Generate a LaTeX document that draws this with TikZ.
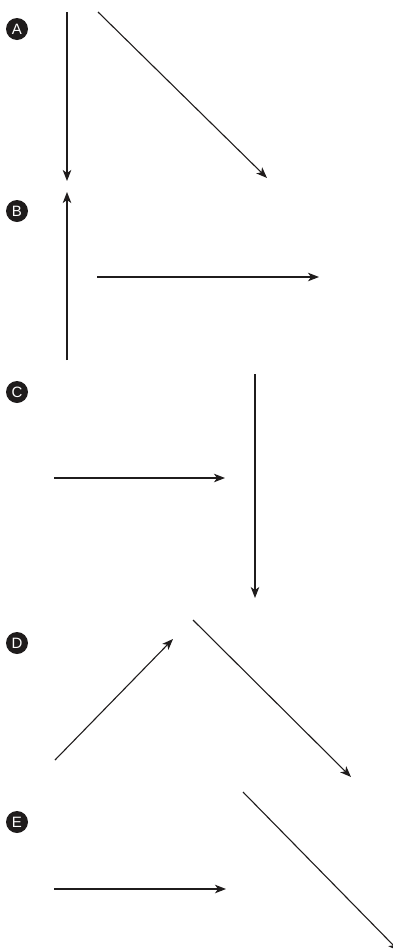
\documentclass[tikz,border=0pt]{standalone}
\usepackage{fontspec}
\setsansfont{Liberation Sans}
\usepackage{xcolor}
\definecolor{inkblack}{rgb}{0.12, 0.11, 0.11}
\usepackage{tikz}
\usetikzlibrary{arrows.meta,positioning}
\tikzset{
  >={Stealth[length=11pt,width=8.5pt,inset=3pt]},
  badge/.style={circle,fill=inkblack,text=white,inner sep=0pt,minimum size=22pt,font=\sffamily\fontsize{15}{15}\selectfont},
  move/.style={->,line width=1.1pt,draw=inkblack}
}

\begin{document}
\begin{tikzpicture}[x=1pt,y=-1pt]
  \useasboundingbox (0,0) rectangle (393,951);
  \clip (0,0) rectangle (393,951);

  % Badges
  \node[badge] (lA) at (17,29) {A};
  \node[badge] (lB) at (17,211) {B};
  \node[badge] (lC) at (17,392) {C};
  \node[badge] (lD) at (17,643) {D};
  \node[badge] (lE) at (17,822) {E};

  % End points
  \coordinate (a1s) at (67,12);   \coordinate (a1e) at (67,181);
  \coordinate (a2s) at (98,12);   \coordinate (a2e) at (267,178);
  \coordinate (b1s) at (67,360);  \coordinate (b1e) at (67,192);
  \coordinate (b2s) at (97,277);  \coordinate (b2e) at (319,277);
  \coordinate (c1s) at (54,478);  \coordinate (c1e) at (225,478);
  \coordinate (c2s) at (255,374); \coordinate (c2e) at (255,598);
  \coordinate (d1s) at (55,760);  \coordinate (d1e) at (173,639);
  \coordinate (d2s) at (193,620); \coordinate (d2e) at (351,777);
  \coordinate (e1s) at (54,889);  \coordinate (e1e) at (226,889);
  \coordinate (e2s) at (243,792); \coordinate (e2e) at (399,951);

  % Arrows
  \draw[move] (a1s) -- (a1e);
  \draw[move] (a2s) -- (a2e);
  \draw[move] (b1s) -- (b1e);
  \draw[move] (b2s) -- (b2e);
  \draw[move] (c1s) -- (c1e);
  \draw[move] (c2s) -- (c2e);
  \draw[move] (d1s) -- (d1e);
  \draw[move] (d2s) -- (d2e);
  \draw[move] (e1s) -- (e1e);
  \draw[move] (e2s) -- (e2e);
\end{tikzpicture}
\end{document}
